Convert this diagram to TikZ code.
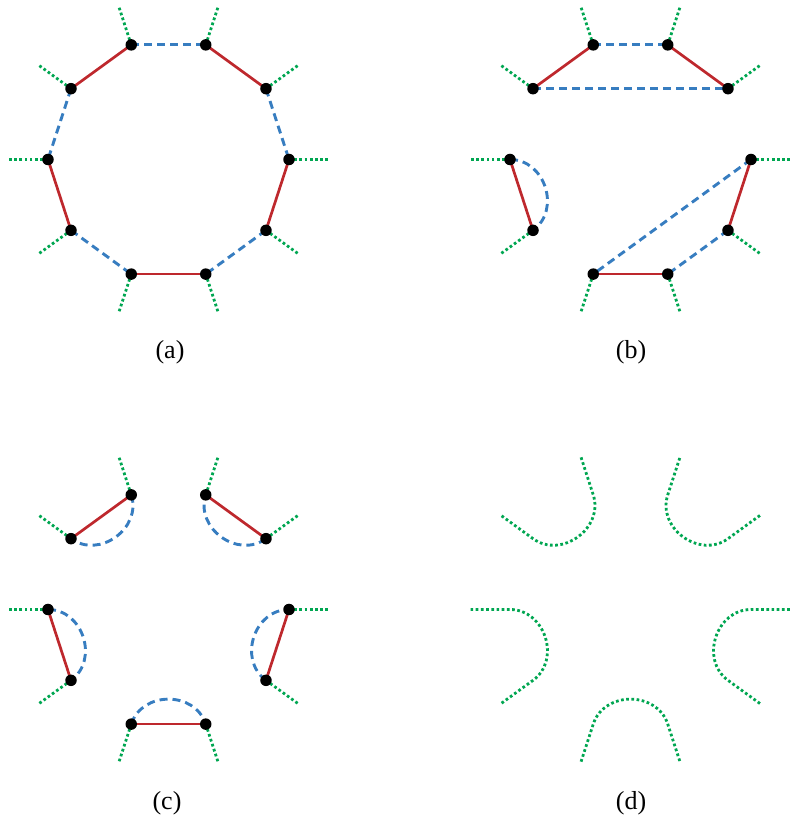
\documentclass[tikz,border=0pt]{standalone}
\usepackage{fontspec}
\setmainfont{Liberation Serif}
\usetikzlibrary{calc}
\definecolor{cred}{RGB}{190,40,45}
\definecolor{cblue}{RGB}{55,125,192}
\definecolor{cgreen}{RGB}{0,166,81}
\tikzset{
  vdot/.style={circle,fill=black,inner sep=0pt,minimum size=11.5pt},
  redline/.style={draw=cred,line width=2.7pt},
  blueline/.style={draw=cblue,line width=2.9pt,dash pattern=on 8pt off 5pt},
  greenline/.style={draw=cgreen,line width=2.8pt,dash pattern=on 2.7pt off 2.5pt},
  lbl/.style={font=\fontsize{26}{28}\selectfont,inner sep=0pt}
}
\begin{document}
\begin{tikzpicture}[x=1pt,y=1pt]
\useasboundingbox (0,0) rectangle (791,815);
\def\R{120.5}
\def\T{160}
\def\D{35pt}
% centres
\coordinate (ca) at (168.5,655.5);
\coordinate (cb) at (630.5,655.5);
\coordinate (cc) at (168.5,205.5);
\coordinate (cd) at (630.5,205.5);
% vertices and stub tips
\foreach \p in {a,b,c,d}{
  \foreach \i in {0,...,9}{
    \coordinate (\p\i) at ($(c\p)+(\i*36:\R)$);
    \coordinate (t\p\i) at ($(c\p)+(\i*36:\T)$);
  }
}
% ---------- (a)
\foreach \i/\j in {3/2,4/5,1/0,6/7,9/8}{\draw[blueline] (a\i) -- (a\j);}
\foreach \i/\j in {3/4,2/1,5/6,0/9,7/8}{\draw[redline] (a\i) -- (a\j);}
\foreach \i in {0,...,9}{\draw[greenline] (a\i) -- (ta\i);}
\foreach \i in {0,...,9}{\node[vdot] at (a\i) {};}
% ---------- (b)
\foreach \i/\j in {3/2,4/1,0/7,9/8}{\draw[blueline] (b\i) -- (b\j);}
\draw[blueline] (b5) .. controls ($(b5)!\D!(cb)$) and ($(b6)!\D!(cb)$) .. (b6);
\foreach \i/\j in {3/4,2/1,5/6,0/9,7/8}{\draw[redline] (b\i) -- (b\j);}
\foreach \i in {0,...,9}{\draw[greenline] (b\i) -- (tb\i);}
\foreach \i in {0,...,9}{\node[vdot] at (b\i) {};}
% ---------- (c)
\foreach \i/\j in {3/4,1/2,5/6,9/0,7/8}{
  \draw[blueline] (c\i) .. controls ($(c\i)!\D!(cc)$) and ($(c\j)!\D!(cc)$) .. (c\j);}
\foreach \i/\j in {3/4,2/1,5/6,0/9,7/8}{\draw[redline] (c\i) -- (c\j);}
\foreach \i in {0,...,9}{\draw[greenline] (c\i) -- (tc\i);}
\foreach \i in {0,...,9}{\node[vdot] at (c\i) {};}
% ---------- (d)
\foreach \i/\j in {3/4,1/2,5/6,9/0,7/8}{
  \draw[greenline] (td\i) -- (d\i) .. controls ($(d\i)!\D!(cd)$) and ($(d\j)!\D!(cd)$) .. (d\j) -- (td\j);}
% labels
\node[lbl] (la) at (170,462.5) {(a)};
\node[lbl] (lb) at (631,462.5) {(b)};
\node[lbl] (lc) at (167,11.5) {(c)};
\node[lbl] (ld) at (631,11.5) {(d)};
\end{tikzpicture}
\end{document}
